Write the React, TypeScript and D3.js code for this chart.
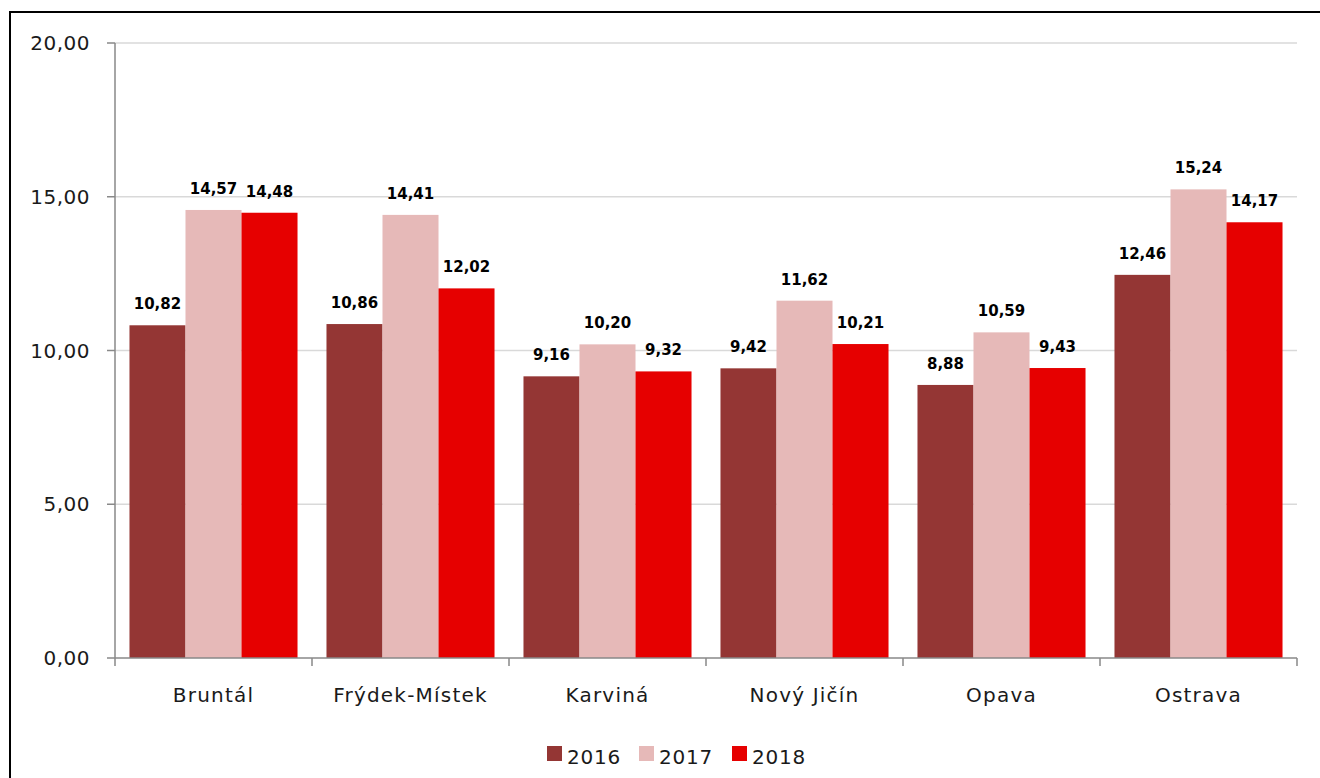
import React, { useEffect, useRef } from 'react';
import * as d3 from 'd3';

const categories = ['Bruntál', 'Frýdek-Místek', 'Karviná', 'Nový Jičín', 'Opava', 'Ostrava'];
const seriesNames = ['2016', '2017', '2018'];
const values2016 = [10.82, 10.86, 9.16, 9.42, 8.88, 12.46];
const values2017 = [14.57, 14.41, 10.2, 11.62, 10.59, 15.24];
const values2018 = [14.48, 12.02, 9.32, 10.21, 9.43, 14.17];
const yTicks = [0, 5, 10, 15, 20];

const colors = ['#943634', '#e6b9b8', '#e60000'];

const App = () => {
    const ref = useRef<SVGSVGElement>(null);

    const graph = () => {
        const svg = d3.select(ref.current);
        svg.selectAll('*').remove();

        const width = 1320;
        const height = 778;
        const left = 115;
        const right = 1297;
        const top = 43;
        const bottom = 658;
        const font = '"DejaVu Sans", sans-serif';

        const series = [values2016, values2017, values2018];
        const fmt = (v: number) => d3.format('.2f')(v).replace('.', ',');

        // outer frame (runs off the right and bottom edge like the original)
        svg.append('rect')
            .attr('x', 10).attr('y', 12)
            .attr('width', width + 20).attr('height', height + 20)
            .attr('fill', 'none').attr('stroke', '#000').attr('stroke-width', 2);

        const x0 = d3.scaleBand().domain(categories).range([left, right])
            .paddingInner(0.147).paddingOuter(0.0735);
        const x1 = d3.scaleBand().domain(seriesNames).range([0, x0.bandwidth()]);
        const y = d3.scaleLinear().domain([0, 20]).range([bottom, top]);

        // gridlines
        svg.append('g').selectAll('line')
            .data(yTicks.slice(1))
            .enter().append('line')
            .attr('x1', left).attr('x2', right)
            .attr('y1', d => y(d)).attr('y2', d => y(d))
            .attr('stroke', '#d9d9d9').attr('stroke-width', 1.5);

        // y axis
        const yAxis = svg.append('g');
        yAxis.append('line')
            .attr('x1', left).attr('x2', left).attr('y1', top).attr('y2', bottom)
            .attr('stroke', '#898989').attr('stroke-width', 1.5);
        yAxis.selectAll('line.tick')
            .data(yTicks)
            .enter().append('line')
            .attr('class', 'tick')
            .attr('x1', left - 8).attr('x2', left)
            .attr('y1', d => y(d)).attr('y2', d => y(d))
            .attr('stroke', '#898989').attr('stroke-width', 1.5);
        yAxis.selectAll('text')
            .data(yTicks)
            .enter().append('text')
            .attr('x', 90)
            .attr('y', d => y(d))
            .attr('dy', '0.36em')
            .attr('text-anchor', 'end')
            .style('font-family', font)
            .style('font-size', '20px')
            .style('letter-spacing', '0.5px')
            .attr('fill', '#1a1a1a')
            .text(d => fmt(d));

        // bars
        const groups = svg.append('g').selectAll('g')
            .data(categories)
            .enter().append('g')
            .attr('transform', d => `translate(${x0(d)},0)`);

        groups.selectAll('rect')
            .data((d, i) => series.map((s, k) => ({ key: seriesNames[k], k, v: s[i] })))
            .enter().append('rect')
            .attr('x', d => x1(d.key)!)
            .attr('width', x1.bandwidth())
            .attr('y', d => y(d.v))
            .attr('height', d => bottom - y(d.v))
            .attr('fill', d => colors[d.k]);

        groups.selectAll('text')
            .data((d, i) => series.map((s, k) => ({ key: seriesNames[k], k, v: s[i] })))
            .enter().append('text')
            .attr('x', d => x1(d.key)! + x1.bandwidth() / 2)
            .attr('y', d => y(d.v) - 16)
            .attr('text-anchor', 'middle')
            .style('font-family', font)
            .style('font-size', '15px')
            .style('font-weight', 'bold')
            .attr('fill', '#000')
            .text(d => fmt(d.v));

        // x axis
        const xAxis = svg.append('g');
        xAxis.append('line')
            .attr('x1', left).attr('x2', right).attr('y1', bottom).attr('y2', bottom)
            .attr('stroke', '#898989').attr('stroke-width', 1.5);
        const step = x0.step();
        xAxis.selectAll('line.tick')
            .data(d3.range(categories.length + 1))
            .enter().append('line')
            .attr('class', 'tick')
            .attr('x1', i => left + i * step).attr('x2', i => left + i * step)
            .attr('y1', bottom).attr('y2', bottom + 8)
            .attr('stroke', '#898989').attr('stroke-width', 1.5);
        xAxis.selectAll('text')
            .data(categories)
            .enter().append('text')
            .attr('x', d => x0(d)! + x0.bandwidth() / 2)
            .attr('y', 702)
            .attr('text-anchor', 'middle')
            .style('font-family', font)
            .style('font-size', '20px')
            .style('letter-spacing', '1.2px')
            .attr('fill', '#1a1a1a')
            .text(d => d);

        // legend
        const legendX = [547, 639, 732];
        const legend = svg.append('g').selectAll('g')
            .data(seriesNames)
            .enter().append('g')
            .attr('transform', (d, i) => `translate(${legendX[i]},746)`);
        legend.append('rect')
            .attr('width', 15).attr('height', 15)
            .attr('fill', (d, i) => colors[i]);
        legend.append('text')
            .attr('x', 20).attr('y', 18)
            .style('font-family', font)
            .style('font-size', '20px')
            .style('letter-spacing', '0.8px')
            .attr('fill', '#1a1a1a')
            .text(d => d);
    };

    useEffect(() => graph());

    return (
        <svg ref={ref} width="1320" height="778"
            style={{ position: 'absolute', left: 0, top: 0, background: '#fff' }}></svg>
    );
};

export default App;
